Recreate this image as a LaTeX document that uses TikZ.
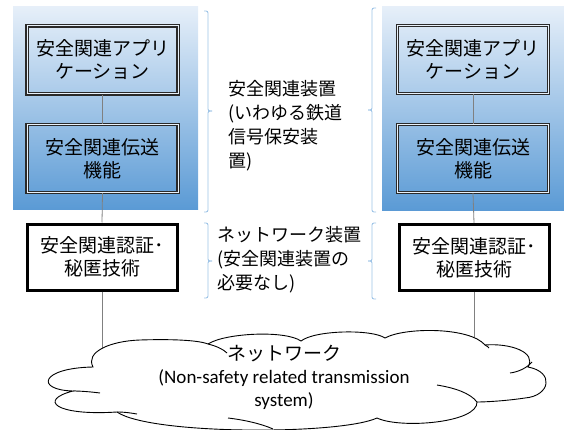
\documentclass[tikz,border=0pt]{standalone}
\usepackage{fontspec}
\setmainfont{Carlito}
\newfontfamily\jp{Noto Sans CJK JP}
\definecolor{pA}{HTML}{E6EFF9}
\definecolor{pC}{HTML}{A2C6E9}
\definecolor{pE}{HTML}{5A9AD5}
\definecolor{bracecol}{HTML}{9DC3E6}
\definecolor{conncol}{HTML}{808080}
\definecolor{boxline}{HTML}{2A2A2A}
\begin{document}
\begin{tikzpicture}[x=1pt,y=-1pt,
  dbox/.style={draw=boxline, line width=1.1pt, double=white!75!pC, double distance=1pt,
    minimum width=151pt, minimum height=68pt, align=center, inner sep=0pt,
    font=\jp\fontsize{19}{23}\selectfont},
  tbox/.style={draw=black, line width=3pt, fill=white,
    minimum width=150pt, minimum height=66pt, align=center, inner sep=0pt,
    font=\jp\fontsize{19}{23}\selectfont},
  grp/.style={anchor=west, align=left, inner sep=0pt, font=\jp\fontsize{18}{24}\selectfont},
  conn/.style={draw=conncol, line width=0.8pt},
  bracestyle/.style={draw=bracecol, line width=0.9pt, rounded corners=2pt},
  panel/.style={top color=pA, middle color=pC, bottom color=pE},
  cloudline/.style={draw=black, line width=0.9pt}]
\useasboundingbox (0,0) rectangle (564,430);
% panels
\shade[panel] (13,7) rectangle (198,210);
\shade[panel] (382,7) rectangle (564,211);
% boxes
\node[dbox] (la) at (102.5,60) {安全関連アプリ\\ケーション};
\node[dbox] (lb) at (102.5,158.5) {安全関連伝送\\機能};
\node[tbox] (lc) at (102,257) {安全関連認証･\\秘匿技術};
\node[dbox] (ra) at (473,59.5) {安全関連アプリ\\ケーション};
\node[dbox] (rb) at (473,158.5) {安全関連伝送\\機能};
\node[tbox] (rc) at (474,257.5) {安全関連認証･\\秘匿技術};
\coordinate (cl) at (102,351);
\coordinate (cr) at (474,337);
% connectors
\draw[conn] (la.south) -- (lb.north);
\draw[conn] (lb.south) -- (lc.north);
\draw[conn] (lc.south) -- (cl);
\draw[conn] (ra.south) -- (rb.north);
\draw[conn] (rb.south) -- (rc.north);
\draw[conn] (rc.south) -- (cr);
% braces
\draw[bracestyle] (204,11) -| (208,111) -- (212,111);
\draw[bracestyle] (212,111) -- (208,111) |- (204,212);
\draw[bracestyle] (376,8) -| (372,110) -- (368,110);
\draw[bracestyle] (368,110) -- (372,110) |- (376,212);
\draw[bracestyle] (204,223) -| (208,261) -- (212,261);
\draw[bracestyle] (212,261) -- (208,261) |- (204,298);
\draw[bracestyle] (376,223) -| (372,261) -- (368,261);
\draw[bracestyle] (368,261) -- (372,261) |- (376,299);
% bracket texts
\node[grp] (t1) at (228,126) {安全関連装置\\(いわゆる鉄道\\信号保安装\\置)};
\node[grp] (t2) at (217,260) {ネットワーク装置\\(安全関連装置の\\必要なし)};
% cloud
\filldraw[cloudline, fill=white]
  (93,367) .. controls (85,352) and (110,341) .. (140,340)
  .. controls (170,339) and (198,340) .. (208,344)
  .. controls (225,333) and (285,330) .. (301,341)
  .. controls (315,330) and (372,329) .. (385,338)
  .. controls (405,327) and (470,327) .. (485,345)
  .. controls (510,343) and (537,352) .. (528,367)
  .. controls (555,372) and (550,396) .. (525,398)
  .. controls (505,401) and (485,402) .. (477,402)
  .. controls (478,423) and (400,429) .. (377,418)
  .. controls (340,435) and (150,435) .. (117,412)
  .. controls (55,416) and (38,400) .. (73,391)
  .. controls (35,390) and (40,368) .. (93,367) -- cycle;
\draw[cloudline] (208,344) .. controls (216,346) and (223,349) .. (227,353);
\draw[cloudline] (73,391) .. controls (82,391) and (92,392) .. (100,393);
\draw[cloudline] (117,412) .. controls (125,412) and (131,413) .. (137,414);
\draw[cloudline] (228,418) .. controls (245,420) and (262,424) .. (273,429);
\draw[cloudline] (437,385) .. controls (455,388) and (470,393) .. (477,402);
\draw[cloudline] (532,362) .. controls (527,368) and (518,372) .. (510,373);
\draw[cloudline] (485,345) .. controls (487,346) and (488,347) .. (489,348);
\node[align=center, inner sep=0pt, font=\fontsize{19}{23}\selectfont] (net) at (284,377)
  {{\jp ネットワーク}\\(Non-safety related transmission\\system)};
\end{tikzpicture}
\end{document}
